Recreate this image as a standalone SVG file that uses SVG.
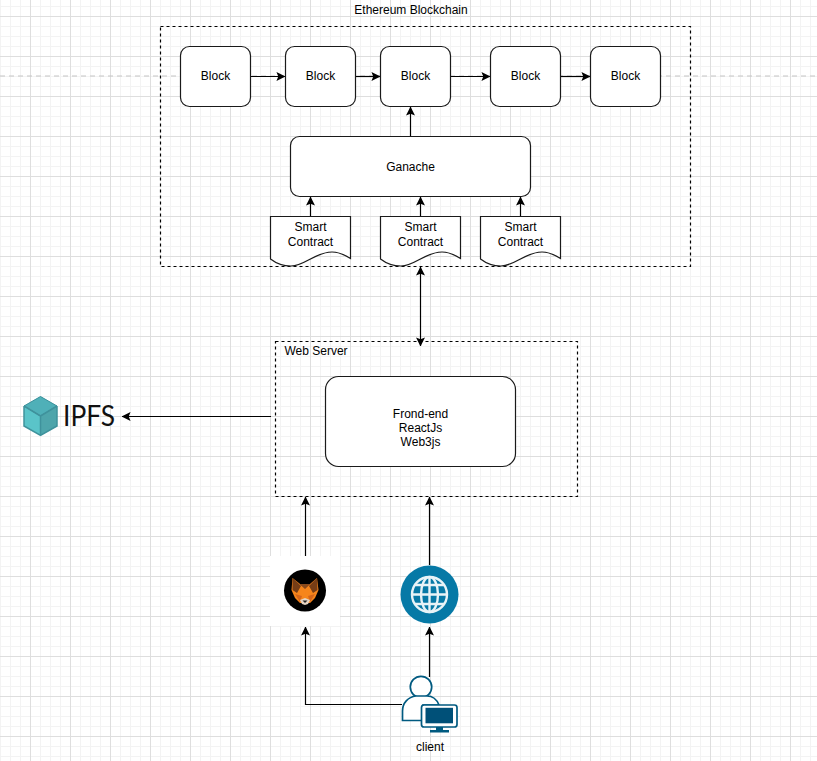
<svg xmlns="http://www.w3.org/2000/svg" width="817" height="761" viewBox="0 0 817 761">
<style>
.t{font-family:"Liberation Sans",Arial,sans-serif;font-size:12px;fill:#000;text-anchor:middle}
.n{fill:#fff;stroke:#1a1a1a;stroke-width:1.2}
.d{fill:none;stroke:#000;stroke-width:1.2;stroke-dasharray:3 3}
.c{fill:none;stroke:#000;stroke-width:1.2}
</style>
<defs>
<pattern id="minor" width="10" height="10" patternUnits="userSpaceOnUse" x="0" y="6">
<path d="M0.5 0V10M0 0.5H10" fill="none" stroke="#f3f3f3" stroke-width="1"/>
</pattern>
<pattern id="major" width="40" height="40" patternUnits="userSpaceOnUse" x="30" y="16">
<path d="M0.5 0V40M0 0.5H40" fill="none" stroke="#dedede" stroke-width="1"/>
</pattern>
<marker id="a" viewBox="0 0 10 10" refX="9.500" refY="5" markerWidth="9" markerHeight="9" markerUnits="userSpaceOnUse" orient="auto-start-reverse">
<path d="M0 0L10 5L0 10L2 5Z" fill="#000"/>
</marker>
</defs>
<rect width="817" height="761" fill="#fff"/>
<rect width="817" height="761" fill="url(#minor)"/>
<rect width="817" height="761" fill="url(#major)"/>
<path d="M0 76H817" stroke="#c4c4c4" stroke-width="1" stroke-dasharray="5 4" fill="none"/>

<g id="blockchain"><rect class="d" x="160.500" y="26.500" width="530" height="240"/><text class="t" x="411" y="14">Ethereum Blockchain</text></g>
<g id="webserver"><rect class="d" x="275.500" y="341.500" width="302" height="155"/><text class="t" x="316" y="355">Web Server</text></g>

<g id="connectors">
<path class="c" marker-end="url(#a)" d="M250.500 76.500H285"/>
<path class="c" marker-end="url(#a)" d="M355.500 76.500H380"/>
<path class="c" marker-end="url(#a)" d="M450.500 76.500H490"/>
<path class="c" marker-end="url(#a)" d="M560.500 76.500H590"/>
<path class="c" marker-end="url(#a)" d="M410.500 136V107"/>
<path class="c" marker-end="url(#a)" d="M310.500 216V197"/>
<path class="c" marker-end="url(#a)" d="M420.500 216V197"/>
<path class="c" marker-end="url(#a)" d="M520.500 216V197"/>
<path class="c" marker-start="url(#a)" marker-end="url(#a)" d="M420.500 267V346"/>
<path class="c" marker-end="url(#a)" d="M271 416.500H122"/>
<path class="c" marker-end="url(#a)" d="M305.500 556V497"/>
<path class="c" marker-end="url(#a)" d="M429.500 565V497"/>
<path class="c" marker-end="url(#a)" d="M429.500 677V627"/>
<path class="c" marker-end="url(#a)" d="M402 704.500H305.500V627"/>
</g>

<g id="block1"><rect class="n" x="180.500" y="46.500" width="70" height="60" rx="9"/><text class="t" x="215.500" y="80">Block</text></g>
<g id="block2"><rect class="n" x="285.500" y="46.500" width="70" height="60" rx="9"/><text class="t" x="320.500" y="80">Block</text></g>
<g id="block3"><rect class="n" x="380.500" y="46.500" width="70" height="60" rx="9"/><text class="t" x="415.500" y="80">Block</text></g>
<g id="block4"><rect class="n" x="490.500" y="46.500" width="70" height="60" rx="9"/><text class="t" x="525.500" y="80">Block</text></g>
<g id="block5"><rect class="n" x="590.500" y="46.500" width="70" height="60" rx="9"/><text class="t" x="625.500" y="80">Block</text></g>
<g id="ganache"><rect class="n" x="290.500" y="136.500" width="240" height="60" rx="9"/><text class="t" x="410.500" y="171">Ganache</text></g>

<g id="contract1"><path class="n" d="M270.500 216.500H350.500V258.500C345 255 339 252 332 252C315 252 305 266 291 266C284 266 277 264 270.500 259Z"/><text class="t" x="310.500" y="231">Smart</text><text class="t" x="310.500" y="246">Contract</text></g>
<g id="contract2"><path class="n" d="M380.500 216.500H460.500V258.500C455 255 449 252 442 252C425 252 415 266 401 266C394 266 387 264 380.500 259Z"/><text class="t" x="420.500" y="231">Smart</text><text class="t" x="420.500" y="246">Contract</text></g>
<g id="contract3"><path class="n" d="M480.500 216.500H560.500V258.500C555 255 549 252 542 252C525 252 515 266 501 266C494 266 487 264 480.500 259Z"/><text class="t" x="520.500" y="231">Smart</text><text class="t" x="520.500" y="246">Contract</text></g>

<g id="frontend"><rect class="n" x="325.500" y="376.500" width="190" height="90" rx="13"/><text class="t" x="420.500" y="418">Frond-end</text><text class="t" x="420.500" y="432">ReactJs</text><text class="t" x="420.500" y="446">Web3js</text></g>

<g id="ipfs">
<path d="M40.500 396.500L57 406V426L40.500 435.500L24 426V406Z" fill="#5ac4c9"/>
<path d="M40.500 396.500L57 406L40.500 416L24 406Z" fill="#4fb0b8" stroke="#3f929c" stroke-width="1"/>
<path d="M40.500 416L57 406V426L40.500 435.500Z" fill="#4ea5ab"/>
<path d="M24 406L40.500 416V435.500M57 406L40.500 416M24 406V426L40.500 435.500L57 426V406" fill="none" stroke="#3f929c" stroke-width="1.500"/>
<text x="63" y="426" font-family="Lato,'Liberation Sans',sans-serif" font-size="28" font-weight="400" textLength="52" lengthAdjust="spacingAndGlyphs" fill="#111">IPFS</text>
</g>

<g id="metamask">
<rect x="270" y="556" width="70" height="70" fill="#fff"/>
<circle cx="305" cy="590.500" r="21" fill="#000"/>
<path d="M292.500 578L300 584H310L317 578L318.500 590L315 598L310 603H300L295 598L291.500 590Z" fill="#f6851b"/>
<path d="M292.500 578L301 586L297 593L292.500 590ZM317 578L309 586L313 593L317.500 590Z" fill="#763d16"/>
<path d="M292.500 578L300 584H310L317 578L305 589Z" fill="#8a4a1c"/>
<path d="M295 594L302 596L300 602ZM315 594L308 596L310 602Z" fill="#d5661a"/>
<path d="M300 600L305 598L310 600L308 604L305 605L302 604Z" fill="#e4d3c2"/>
<path d="M302.500 600.500H307.500L305 603Z" fill="#222"/>
</g>

<g id="browser">
<circle cx="429.500" cy="594.500" r="29" fill="#0679a6"/>
<g fill="none" stroke="#e8f3f7" stroke-width="2.400">
<circle cx="429.500" cy="594.500" r="17.500"/>
<ellipse cx="429.500" cy="594.500" rx="8.500" ry="17.500"/>
<path d="M429.500 577V612M412 594.500H447M415 585H444M415 604H444"/>
</g>
</g>

<g id="client">
<circle cx="421" cy="687" r="10.700" fill="#fff" stroke="#005a80" stroke-width="1.700"/>
<path d="M402.500 720.500V711C402.500 703 408 697 416 696H427C433 696 437 700 439 705H423V720.500Z" fill="#fff" stroke="#005a80" stroke-width="1.700"/>
<rect x="421.500" y="705" width="35.500" height="22" rx="2.500" fill="#fff" stroke="#005a80" stroke-width="1.700"/>
<rect x="425.500" y="707.800" width="27.500" height="15.500" fill="#005078"/>
<path d="M436 727H443V730H449V732.500H430V730H436Z" fill="#005a80"/>
<text class="t" x="430" y="751">client</text>
</g>
</svg>
